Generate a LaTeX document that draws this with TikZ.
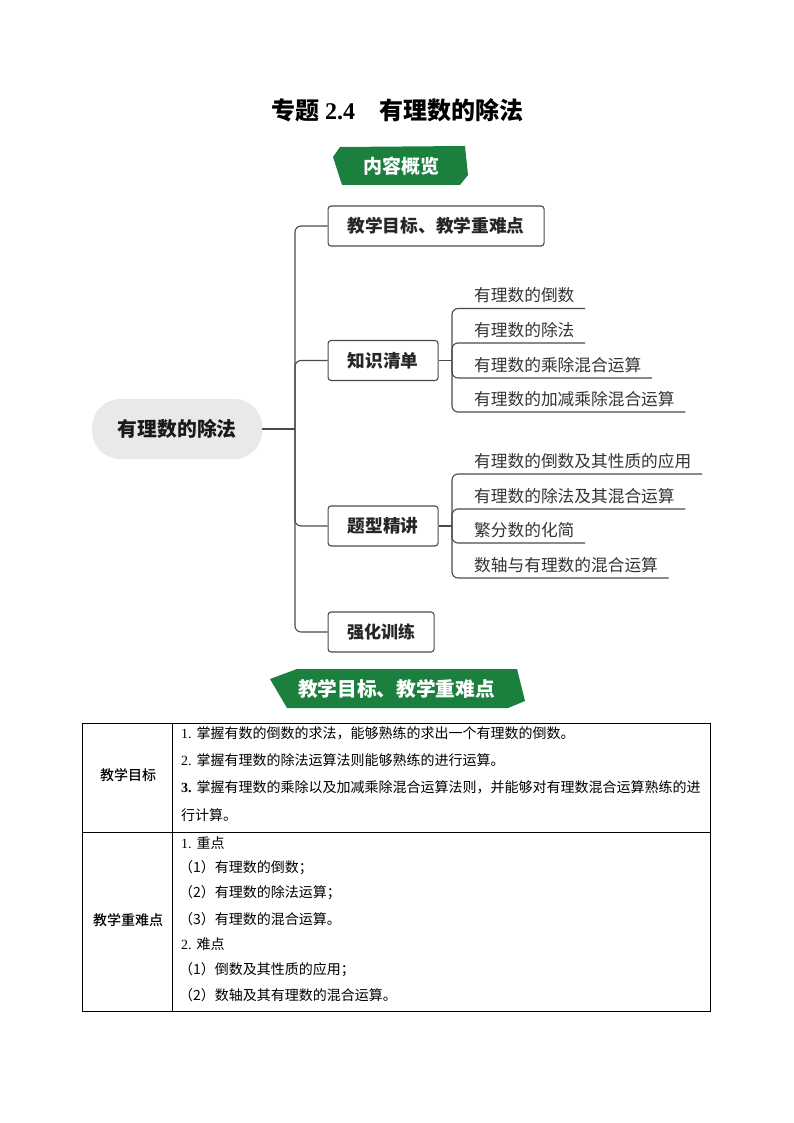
\documentclass[tikz,border=0pt]{standalone}
\usepackage{fontspec}
\setmainfont{Liberation Serif}
\newfontfamily\cjk{Noto Sans CJK SC}
\newfontfamily\cjkmed{Noto Sans CJK SC Medium}
\definecolor{badgegreen}{HTML}{1B7F3E}
\definecolor{linkgray}{HTML}{4A4A4A}
\definecolor{rootgray}{HTML}{E9E9E9}
\tikzset{
	link/.style={draw=linkgray,line width=1.1pt,rounded corners=6pt},
	topic/.style={draw=linkgray,line width=1.1pt,rounded corners=3pt,anchor=west,minimum height=40pt,inner sep=0pt,text=black!85,font=\cjk\bfseries\fontsize{17.7}{22}\selectfont},
	leaf/.style={anchor=south west,inner xsep=10.5pt,inner ysep=5pt,text=black!80,font=\cjk\fontsize{16.7}{20}\selectfont},
	badge/.style={fill=badgegreen},
	badgetext/.style={text=white,font=\cjk\bfseries\fontsize{19}{22}\selectfont},
	row/.style={anchor=west,inner sep=0pt,font=\fontsize{14}{16}\selectfont},
	cell/.style={inner sep=0pt,font=\cjkmed\fontsize{14}{16}\selectfont}
}
\begin{document}
\begin{tikzpicture}[x=1pt,y=-1pt]
\useasboundingbox (0,0) rectangle (794,1123);
\draw (397,110) node[font=\bfseries\fontsize{24}{28}\selectfont] (Title) {{\cjk 专题} 2.4\hspace{24pt}{\cjk 有理数的除法}};

\fill[badge] (333,157) -- (340,147) -- (465,146) -- (468,175) -- (460,185) -- (342,185) -- cycle;
\draw (401,166) node[badgetext] (Overview) {内容概览};

\draw (92,429) node[anchor=west,fill=rootgray,rounded corners=28pt,minimum width=170pt,minimum height=60pt,inner sep=0pt,text=black!90,font=\cjk\bfseries\fontsize{19.8}{24}\selectfont] (Root) {有理数的除法};

\draw (327.5,226) node[topic,minimum width=216pt] (Goal) {教学目标、教学重难点};
\draw (327.5,360.5) node[topic,minimum width=110pt] (Know) {知识清单};
\draw (327.5,526) node[topic,minimum width=110pt] (Types) {题型精讲};
\draw (327.5,632) node[topic,minimum width=106pt,font=\cjk\bfseries\fontsize{17}{22}\selectfont] (Train) {强化训练};

\draw (463.5,308.5) node[leaf] (KnowA) {有理数的倒数};
\draw (463.5,343) node[leaf] (KnowB) {有理数的除法};
\draw (463.5,378) node[leaf] (KnowC) {有理数的乘除混合运算};
\draw (463.5,412) node[leaf] (KnowD) {有理数的加减乘除混合运算};
\draw (463.5,474) node[leaf] (TypesA) {有理数的倒数及其性质的应用};
\draw (463.5,509) node[leaf] (TypesB) {有理数的除法及其混合运算};
\draw (463.5,543) node[leaf] (TypesC) {繁分数的化简};
\draw (463.5,578) node[leaf] (TypesD) {数轴与有理数的混合运算};

\coordinate (Trunk) at (295,429);
\coordinate (KnowBus) at (452,360.5);
\coordinate (TypesBus) at (452,526);

\draw[link] (Root.east) -- (Trunk);
\draw[link] (Trunk) |- (Goal.west);
\draw[link] (Trunk) |- (Know.west);
\draw[link] (Trunk) |- (Types.west);
\draw[link] (Trunk) |- (Train.west);

\draw[link] (Know.east) -- (KnowBus);
\draw[link] (KnowBus) |- (KnowA.south east);
\draw[link] (KnowBus) |- (KnowB.south east);
\draw[link] (KnowBus) |- (KnowC.south east);
\draw[link] (KnowBus) |- (KnowD.south east);
\draw[link] (Types.east) -- (TypesBus);
\draw[link] (TypesBus) |- (TypesA.south east);
\draw[link] (TypesBus) |- (TypesB.south east);
\draw[link] (TypesBus) |- (TypesC.south east);
\draw[link] (TypesBus) |- (TypesD.south east);

\fill[badge] (270,679) -- (297,669) -- (517,669) -- (525,701) -- (508,708) -- (287,708) -- cycle;
\draw (396.5,688.5) node[badgetext,font=\cjk\bfseries\fontsize{19.7}{24}\selectfont] (Aims) {教学目标、教学重难点};

\draw[line width=1pt] (82.5,723) rectangle (710.5,1011);
\draw[line width=1pt] (172,723) -- (172,1011);
\draw[line width=1pt] (82.5,832.5) -- (710.5,832.5);

\draw (128,775) node[cell] (GoalCell) {教学目标};
\draw (128,920) node[cell] (KeyCell) {教学重难点};

\draw (181,733) node[row] (GoalA) {1.\hspace{5pt}{\cjk 掌握有数的倒数的求法，能够熟练的求出一个有理数的倒数。}};
\draw (181,760) node[row] (GoalB) {2.\hspace{5pt}{\cjk 掌握有理数的除法运算法则能够熟练的进行运算。}};
\draw (181,787) node[row] (GoalC) {\textbf{3.}\hspace{5pt}{\cjk 掌握有理数的乘除以及加减乘除混合运算法则，并能够对有理数混合运算熟练的进}};
\draw (181,815) node[row] (GoalD) {{\cjk 行计算。}};

\draw (181,843) node[row] (KeyA) {1.\hspace{5pt}{\cjk 重点}};
\draw (179,868) node[row] (KeyB) {{\cjk （1）有理数的倒数；}};
\draw (179,893) node[row] (KeyC) {{\cjk （2）有理数的除法运算；}};
\draw (179,919) node[row] (KeyD) {{\cjk （3）有理数的混合运算。}};
\draw (181,944) node[row] (KeyE) {2.\hspace{5pt}{\cjk 难点}};
\draw (179,970) node[row] (KeyF) {{\cjk （1）倒数及其性质的应用；}};
\draw (179,995) node[row] (KeyG) {{\cjk （2）数轴及其有理数的混合运算。}};
\end{tikzpicture}
\end{document}
